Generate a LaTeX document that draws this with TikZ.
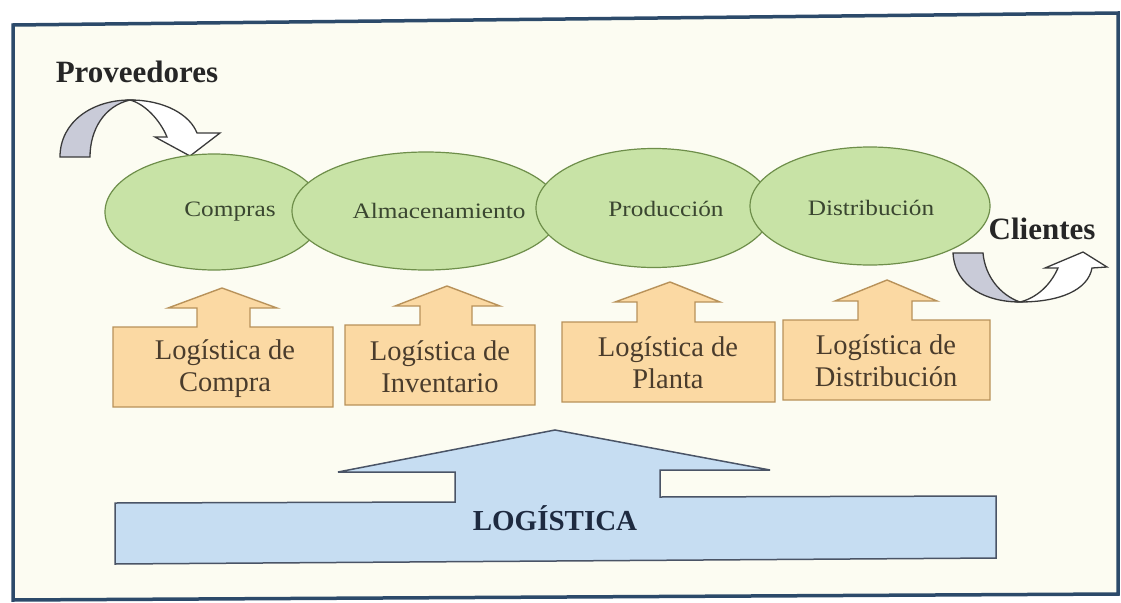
\documentclass[tikz,border=0pt]{standalone}
\usepackage{fontspec}
\setmainfont{Liberation Serif}
\newfontfamily\ellfont[FakeStretch=1.15]{Liberation Serif}
\usetikzlibrary{shapes.geometric}
\definecolor{framec}{HTML}{2C4A6A}
\definecolor{bgc}{HTML}{FCFCF2}
\definecolor{ellfill}{HTML}{C8E3A6}
\definecolor{elldraw}{HTML}{6E8E4A}
\definecolor{orfill}{HTML}{FBD9A3}
\definecolor{ordraw}{HTML}{B8925A}
\definecolor{blfill}{HTML}{C6DDF2}
\definecolor{bldraw}{HTML}{4A5466}
\definecolor{grayfill}{HTML}{C9CBD8}
\definecolor{arrdraw}{HTML}{3A3A3A}
\definecolor{txtgreen}{HTML}{3A4630}
\definecolor{txtbrown}{HTML}{4A3C2C}
\definecolor{txtdark}{HTML}{262626}
\definecolor{txtblue}{HTML}{1E2A40}
\begin{document}
\begin{tikzpicture}[x=1pt,y=-1pt,
  ell/.style={ellipse, draw=elldraw, fill=ellfill, line width=1.2pt, inner sep=0pt},
  elltext/.style={font=\ellfont\fontsize{22}{26}\selectfont, text=txtgreen},
  obox/.style={draw=ordraw, fill=orfill, line width=1.4pt, line join=miter},
  boxtext/.style={font=\fontsize{28.5}{32}\selectfont, text=txtbrown, align=center},
  bigarrow/.style={draw=bldraw, fill=blfill, line width=1.5pt},
  ribbonback/.style={draw=arrdraw, fill=grayfill, line width=1.3pt},
  ribbonfront/.style={draw=arrdraw, fill=white, line width=1.3pt},
  titletext/.style={font=\bfseries\fontsize{31}{34}\selectfont, text=txtdark}
]
\useasboundingbox (0,0) rectangle (1121,602);
\fill[white] (0,0) rectangle (1121,602);
% frame
\filldraw[fill=bgc, draw=framec, line width=3.5pt] (13,25) -- (1118,13) -- (1118,594) -- (13,600) -- cycle;

% Proveedores
\node[titletext] (prov) at (137,72) {Proveedores};
\path[ribbonfront] (130,100) .. controls (165,100) and (190,115) .. (197,133)
  -- (220,133) -- (190,156) -- (155,137) -- (167,137)
  .. controls (160,120) and (145,104) .. (130,100) -- cycle;
\path[ribbonback] (60,157) .. controls (60,122) and (92,100) .. (130,100)
  .. controls (104,106) and (90,130) .. (90,157) -- cycle;

% ellipses
\node[ell, minimum width=218pt, minimum height=116pt] (e1) at (214,212) {};
\node[ell, minimum width=268pt, minimum height=118pt] (e2) at (426,211) {};
\node[ell, minimum width=236pt, minimum height=119pt] (e3) at (654,208) {};
\node[ell, minimum width=240pt, minimum height=118pt] (e4) at (870,206) {};
\node[elltext] (t1) at (230,212) {Compras};
\node[elltext] (t2) at (439,211) {Almacenamiento};
\node[elltext] (t3) at (666,209) {Producción};
\node[elltext] (t4) at (871,208) {Distribución};

% Clientes
\node[titletext] (cli) at (1042,229) {Clientes};
\path[ribbonfront] (1020,302) .. controls (1060,302) and (1088,290) .. (1092,268)
  -- (1107,267) -- (1083,252) -- (1045,268) -- (1058,268)
  .. controls (1050,286) and (1036,298) .. (1020,302) -- cycle;
\path[ribbonback] (953,253) -- (983,253)
  .. controls (985,276) and (1000,295) .. (1020,302)
  .. controls (988,302) and (955,288) .. (953,253) -- cycle;

% orange boxes with up arrows
\path[obox] (113,327) -- (197,327) -- (197,308) -- (168,308) -- (222,288) -- (277,308) -- (250,308) -- (250,327) -- (333,327) -- (333,407) -- (113,407) -- cycle;
\path[obox] (345,325) -- (420,325) -- (420,306) -- (395,306) -- (447,286) -- (500,306) -- (472,306) -- (472,325) -- (535,325) -- (535,405) -- (345,405) -- cycle;
\path[obox] (562,322) -- (637,322) -- (637,302) -- (615,302) -- (670,282) -- (720,302) -- (695,302) -- (695,322) -- (775,322) -- (775,402) -- (562,402) -- cycle;
\path[obox] (783,320) -- (858,320) -- (858,301) -- (835,301) -- (887,280) -- (937,301) -- (912,301) -- (912,320) -- (990,320) -- (990,400) -- (783,400) -- cycle;
\node[boxtext] (b1) at (225,369) {Logística de\\Compra};
\node[boxtext] (b2) at (440,367) {Logística de\\Inventario};
\node[boxtext] (b3) at (668,363) {Logística de\\Planta};
\node[boxtext] (b4) at (886,361) {Logística de\\Distribución};

% big LOGISTICA arrow
\path[bigarrow] (115,503) -- (455,502) -- (455,472) -- (338,472) -- (555,430) -- (770,470) -- (660,470) -- (660,497) -- (996,496) -- (996,558) -- (115,564) -- cycle;
\node[font=\bfseries\fontsize{29}{32}\selectfont, text=txtblue] (log) at (555,518) {LOGÍSTICA};
\end{tikzpicture}
\end{document}
